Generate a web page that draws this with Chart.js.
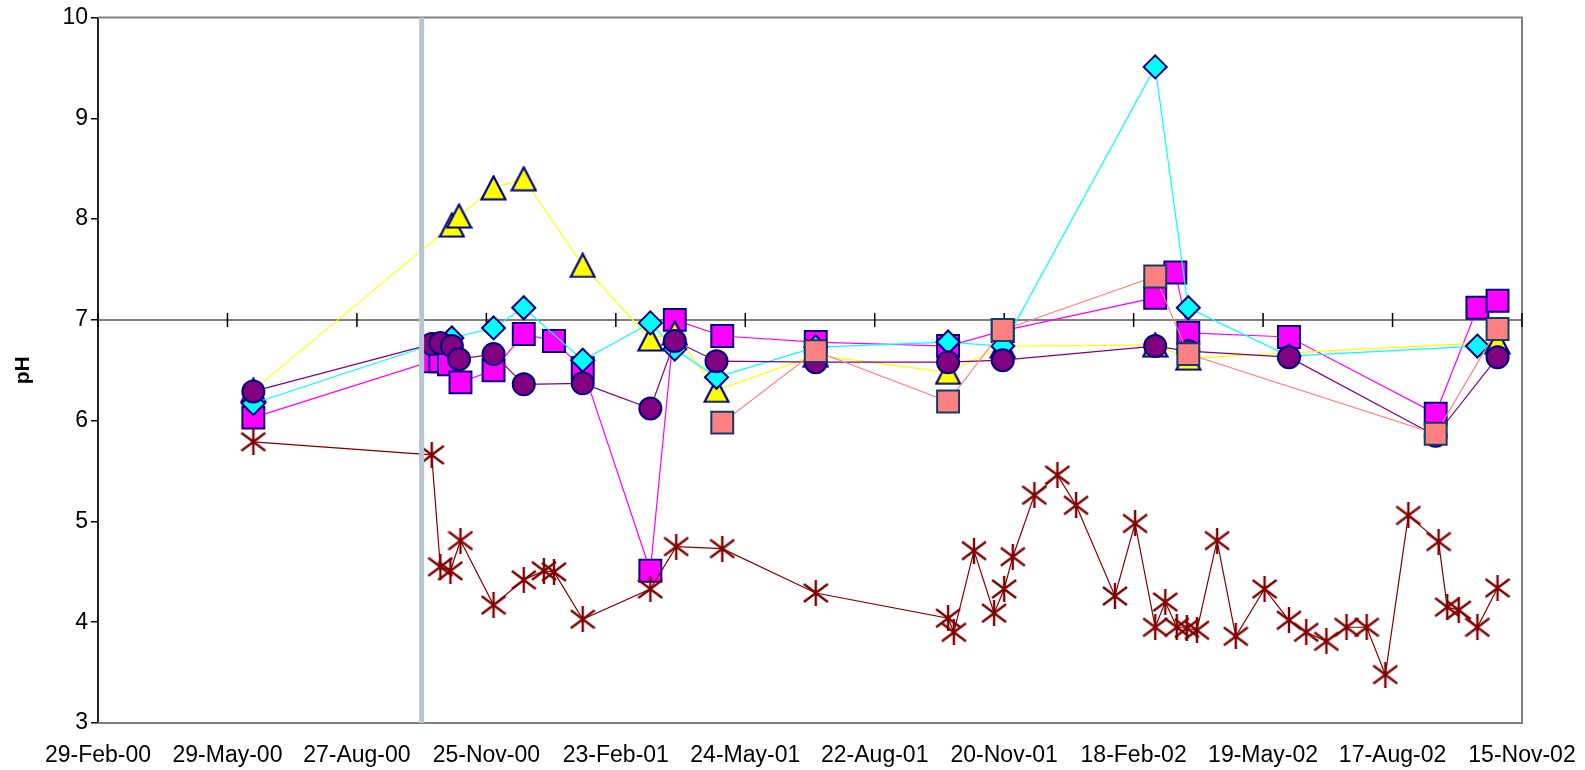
<!DOCTYPE html>
<html>
<head>
<meta charset="utf-8">
<script src="https://cdn.jsdelivr.net/npm/chart.js@4.4.1/dist/chart.umd.min.js"></script>
<style>
  html, body { margin: 0; padding: 0; background: #fff; }
</style>
</head>
<body>
<canvas id="myChart" width="1585" height="770"></canvas>
<script>
// sample dates and pH readings, one pair of arrays per series
var magentaDates = ['2000-06-16','2000-10-18','2000-10-24','2000-10-30','2000-11-07','2000-11-30','2000-12-21','2001-01-11','2001-01-31','2001-03-19','2001-04-05','2001-05-08','2001-07-12','2001-10-12','2001-11-19','2002-03-05','2002-03-19','2002-03-28','2002-06-06','2002-09-16','2002-10-15','2002-10-29'];
var magentaPH    = [6.03, 6.59, 6.59, 6.56, 6.38, 6.50, 6.86, 6.79, 6.52, 4.51, 7.00, 6.84, 6.78, 6.74, 6.89, 7.22, 7.47, 6.87, 6.83, 6.07, 7.12, 7.19];

var yellowDates = ['2000-06-16','2000-11-01','2000-11-06','2000-11-30','2000-12-21','2001-01-31','2001-03-19','2001-04-05','2001-05-04','2001-07-12','2001-10-12','2001-11-19','2002-03-05','2002-03-28','2002-10-29'];
var yellowPH    = [6.30, 7.94, 8.03, 8.31, 8.40, 7.54, 6.81, 6.87, 6.30, 6.65, 6.48, 6.74, 6.75, 6.62, 6.78];

var cyanDates = ['2000-06-16','2000-11-01','2000-11-30','2000-12-21','2001-01-31','2001-03-19','2001-04-05','2001-05-04','2001-07-12','2001-10-12','2001-11-19','2002-03-05','2002-03-28','2002-06-06','2002-10-15'];
var cyanPH    = [6.17, 6.82, 6.92, 7.12, 6.60, 6.97, 6.71, 6.43, 6.73, 6.78, 6.74, 9.51, 7.12, 6.64, 6.74];

var purpleDates = ['2000-06-16','2000-10-18','2000-10-24','2000-11-01','2000-11-06','2000-11-30','2000-12-21','2001-01-31','2001-03-19','2001-04-05','2001-05-04','2001-07-12','2001-10-12','2001-11-19','2002-03-05','2002-03-28','2002-06-06','2002-09-16','2002-10-29'];
var purplePH    = [6.29, 6.76, 6.77, 6.74, 6.61, 6.66, 6.36, 6.37, 6.12, 6.79, 6.59, 6.58, 6.58, 6.60, 6.74, 6.69, 6.63, 5.85, 6.63];

var salmonDates = ['2001-05-08','2001-07-12','2001-10-12','2001-11-19','2002-03-05','2002-03-28','2002-09-16','2002-10-29'];
var salmonPH    = [5.98, 6.69, 6.19, 6.90, 7.43, 6.66, 5.87, 6.91];

var starDates = ['2000-06-16','2000-10-18','2000-10-24','2000-10-31','2000-11-07','2000-11-30','2000-12-21','2001-01-04','2001-01-11','2001-01-31','2001-03-19','2001-04-06','2001-05-08','2001-07-12','2001-10-12','2001-10-16','2001-10-30','2001-11-13','2001-11-20','2001-11-26','2001-12-11','2001-12-27','2002-01-09','2002-02-05','2002-02-19','2002-03-05','2002-03-12','2002-03-20','2002-03-27','2002-04-03','2002-04-17','2002-04-30','2002-05-20','2002-06-06','2002-06-18','2002-07-02','2002-07-16','2002-07-30','2002-08-12','2002-08-28','2002-09-18','2002-09-24','2002-10-02','2002-10-15','2002-10-29'];
var starPH    = [5.79, 5.66, 4.55, 4.51, 4.81, 4.17, 4.42, 4.51, 4.50, 4.03, 4.33, 4.75, 4.73, 4.29, 4.04, 3.90, 4.71, 4.09, 4.33, 4.65, 5.26, 5.46, 5.16, 4.26, 4.98, 3.95, 4.20, 3.95, 3.94, 3.92, 4.81, 3.86, 4.33, 4.02, 3.90, 3.81, 3.95, 3.95, 3.48, 5.06, 4.80, 4.15, 4.12, 3.95, 4.34];

// axis: days counted from 29-Feb-00, a tick every 90 days
var axisStart = '2000-02-29';
var axisDays = 990;
var tickStep = 90;
var yTicks = [3, 10];
var markerDate = '2000-10-11';   // grey vertical line

var DAY = 86400000;
var months = ['Jan','Feb','Mar','Apr','May','Jun','Jul','Aug','Sep','Oct','Nov','Dec'];
function toDay(s){
    var p = s.split('-');
    var q = axisStart.split('-');
    return Math.round((Date.UTC(+p[0], +p[1]-1, +p[2]) - Date.UTC(+q[0], +q[1]-1, +q[2])) / DAY);
}
function dayLabel(v){
    var q = axisStart.split('-');
    var d = new Date(Date.UTC(+q[0], +q[1]-1, +q[2]) + v*DAY);
    return d.getUTCDate() + '-' + months[d.getUTCMonth()] + '-' + String(d.getUTCFullYear()).slice(2);
}
function pts(dates, vals){
    return dates.map(function(s, i){ return {x: toDay(s), y: vals[i]}; });
}

// asterisk marker
var star = document.createElement('canvas');
star.width = 26; star.height = 26;
var sc = star.getContext('2d');
sc.strokeStyle = '#800000';
sc.lineWidth = 2.4;
sc.beginPath();
sc.moveTo(1, 4); sc.lineTo(25, 22);
sc.moveTo(25, 4); sc.lineTo(1, 22);
sc.moveTo(13, 0); sc.lineTo(13, 26);
sc.stroke();

// triangle marker centred on its box (like the spreadsheet one)
var tri = document.createElement('canvas');
tri.width = 27; tri.height = 26;
var tc = tri.getContext('2d');
tc.beginPath();
tc.moveTo(13.5, 1.5); tc.lineTo(25.5, 24.5); tc.lineTo(1.5, 24.5); tc.closePath();
tc.fillStyle = '#FFFF00';
tc.fill();
tc.strokeStyle = '#000080';
tc.lineWidth = 2.2;
tc.lineJoin = 'miter';
tc.stroke();

var font = {family: "'Liberation Sans', Arial, sans-serif", size: 23};

var decor = {
    id: 'decor',
    beforeDatasetsDraw: function(chart){
        var ctx = chart.ctx, a = chart.chartArea, x = chart.scales.x, y = chart.scales.y;
        ctx.save();
        ctx.strokeStyle = '#808080';
        ctx.lineWidth = 2;
        ctx.beginPath();
        ctx.moveTo(a.left, a.top); ctx.lineTo(a.right, a.top);
        ctx.lineTo(a.right, a.bottom); ctx.lineTo(a.left, a.bottom);
        ctx.stroke();
        var y7 = Math.round(y.getPixelForValue(7));
        ctx.beginPath(); ctx.moveTo(a.left, y7); ctx.lineTo(a.right, y7); ctx.stroke();
        ctx.strokeStyle = '#000';
        ctx.lineWidth = 1.5;
        x.ticks.forEach(function(t){
            var px = x.getPixelForValue(t.value);
            ctx.beginPath(); ctx.moveTo(px, y7 - 7); ctx.lineTo(px, y7 + 7); ctx.stroke();
        });
        ctx.restore();
    },
    afterDatasetsDraw: function(chart){
        var ctx = chart.ctx, a = chart.chartArea, x = chart.scales.x;
        var px = x.getPixelForValue(toDay(markerDate));
        ctx.save();
        ctx.strokeStyle = '#B8C5D5';
        ctx.lineWidth = 5;
        ctx.beginPath(); ctx.moveTo(px, a.top); ctx.lineTo(px, a.bottom); ctx.stroke();
        ctx.restore();
    }
};

function series(dates, vals, color, style, fill, border, radius){
    return {
        data: pts(dates, vals),
        showLine: true,
        borderColor: color,
        borderWidth: 1.2,
        pointStyle: style,
        pointRadius: radius,
        pointBackgroundColor: fill,
        pointBorderColor: border,
        pointBorderWidth: 2,
        fill: false,
        tension: 0
    };
}

var ctx = document.getElementById('myChart').getContext('2d');
var chart = new Chart(ctx, {
    type: 'scatter',
    data: {
        // first dataset is painted on top
        datasets: [
            series(starDates, starPH, '#800000', star, '#800000', '#800000', 13),
            series(salmonDates, salmonPH, '#FF8080', 'rect', '#FF8080', '#123D66', 15.5),
            series(purpleDates, purplePH, '#800080', 'circle', '#800080', '#000080', 11),
            series(cyanDates, cyanPH, '#00FFFF', 'rectRot', '#00FFFF', '#000080', 11.5),
            series(yellowDates, yellowPH, '#FFFF00', tri, '#FFFF00', '#000080', 13),
            series(magentaDates, magentaPH, '#FF00FF', 'rect', '#FF00FF', '#000080', 15.5)
        ]
    },
    options: {
        responsive: false,
        animation: false,
        layout: {padding: {top: 16, right: 63, left: 0, bottom: 0}},
        plugins: {legend: {display: false}, tooltip: {enabled: false}},
        scales: {
            x: {
                type: 'linear',
                min: 0,
                max: axisDays,
                grid: {display: false, drawTicks: true, tickLength: 12},
                border: {display: false},
                ticks: {stepSize: tickStep, autoSkip: false, maxRotation: 0, padding: 7, color: '#000', font: font,
                        callback: function(v){ return dayLabel(v); }},
                afterFit: function(s){ s.height = 47; }
            },
            y: {
                min: yTicks[0],
                max: yTicks[1],
                grid: {display: true, drawOnChartArea: false, tickLength: 7, color: '#000', lineWidth: 1.5},
                border: {display: true, color: '#222', width: 2},
                ticks: {stepSize: 1, padding: 3, color: '#000', font: font},
                title: {display: true, text: 'pH', color: '#000', padding: {top: 11, bottom: 0},
                        font: {family: font.family, size: 21, weight: 'bold'}},
                afterFit: function(s){ s.width = 98; }
            }
        }
    },
    plugins: [decor]
});
</script>
</body>
</html>
